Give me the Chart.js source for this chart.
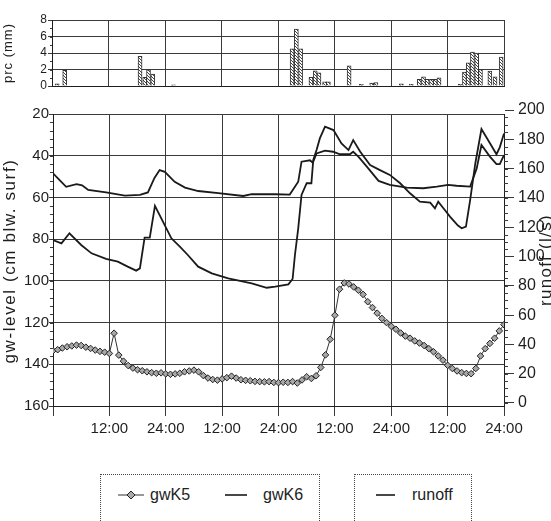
<!DOCTYPE html>
<html>
<head>
<meta charset="utf-8">
<script src="https://cdn.jsdelivr.net/npm/chart.js@4.4.1/dist/chart.umd.min.js"></script>
<style>
  html, body { margin:0; padding:0; background:#fff; width:551px; height:521px; overflow:hidden; }
  body { position:relative; font-family:"Liberation Sans", Arial, sans-serif; color:#222; }
  canvas { position:absolute; left:0; }
  #top { top:0; }
  #main { top:95px; }
  .box { position:absolute; border-top:1px dotted #444; border-left:1px dotted #444; border-right:1px dotted #444; }
  .lt { position:absolute; font-size:16px; line-height:18px; color:#222; }
  .sym { position:absolute; }
</style>
</head>
<body>
<canvas id="top" width="551" height="100"></canvas>
<canvas id="main" width="551" height="360"></canvas>

<div class="box" style="left:100px;top:474px;width:218px;height:60px;"></div>
<svg class="sym" style="left:118px;top:489px" width="26" height="12">
  <line x1="0" y1="6" x2="26" y2="6" stroke="#333" stroke-width="1"/>
  <polygon points="13,2 17,6 13,10 9,6" fill="#aaa" stroke="#222" stroke-width="1"/>
</svg>
<div class="lt" style="left:150px;top:486px;">gwK5</div>
<svg class="sym" style="left:225px;top:489px" width="22" height="12">
  <line x1="0" y1="6" x2="22" y2="6" stroke="#1a1a1a" stroke-width="1.6"/>
</svg>
<div class="lt" style="left:263px;top:486px;">gwK6</div>

<div class="box" style="left:354px;top:474px;width:116px;height:60px;"></div>
<svg class="sym" style="left:376px;top:489px" width="19" height="12">
  <line x1="0" y1="6" x2="19" y2="6" stroke="#1a1a1a" stroke-width="1.6"/>
</svg>
<div class="lt" style="left:412px;top:486px;">runoff</div>

<script>
// ---------------- DATA ----------------
// precipitation bars (hour from start, mm)
const prcHours  = [1.1, 2.7, 18.7, 19.7, 20.5, 21.4, 25.8, 51.0, 51.9, 52.8, 55.0, 55.9, 56.7, 57.9, 58.7, 63.1, 65.7, 67.9, 68.8, 74.2, 76.3, 78.0, 78.9, 79.7, 80.6, 81.4, 82.2, 86.7, 87.6, 88.4, 89.3, 90.2, 91.0, 93.0, 94.1, 95.4];
const prcValues = [0.25, 1.9, 3.6, 1.05, 1.95, 1.45, 0.15, 4.5, 6.9, 4.5, 1.05, 1.85, 1.6, 0.5, 0.5, 2.45, 0.2, 0.35, 0.4, 0.25, 0.2, 0.8, 1.1, 0.8, 0.8, 0.8, 1.0, 0.2, 1.7, 2.8, 4.1, 4.0, 2.0, 1.8, 1.1, 3.5];

// gwK5 hourly readings, hour 0 .. 96 (cm below surface)
const gwK5Values = [133.5,133.0,132.2,131.6,131.2,130.8,131.0,131.8,132.4,133.2,133.8,134.2,134.8,
  125.1,
  135.6,138.5,140.6,141.8,142.6,143.1,143.6,144.0,144.3,144.1,
  144.6,144.8,144.6,144.3,143.6,143.2,142.8,143.6,145.4,146.6,
  147.3,147.6,147.0,146.4,145.7,146.6,147.4,147.7,147.9,148.2,
  148.3,148.4,148.3,148.7,148.8,148.6,148.7,148.3,149.0,147.5,
  146.0,146.8,145.5,141.5,135.5,128.0,116.5,104.0,101.0,101.5,
  102.9,104.5,106.5,110.0,112.8,115.5,118.0,120.0,121.8,123.2,
  125.0,126.5,127.5,128.8,129.8,131.0,132.5,134.0,136.0,138.0,
  140.5,142.0,143.2,144.0,144.4,144.5,142.0,136.0,132.5,130.0,
  127.5,124.0,121.0];

// gwK6 (cm below surface)
const gwK6Hours  = [0,1.8,3.5,6.0,8.2,11.3,13.8,15.9,17.7,18.5,19.5,20.6,21.7,23.4,25.2,27.0,28.7,30.9,33.8,37.3,42.3,45.5,47.3,50.1,51.0,51.5,52.2,52.9,54.0,55.0,55.4,56.1,56.8,57.9,59.7,61.4,62.9,63.9,65.4,67.5,69.6,71.7,73.9,76.0,78.1,80.3,81.3,82.0,83.4,84.5,86.2,87.0,87.9,88.8,89.9,91.2,92.6,94.4,95.1,96];
const gwK6Values = [80.4,82.0,77.2,82.8,86.8,89.5,90.8,93.2,95.1,94.0,79.3,79.3,64.0,71.6,79.6,83.6,87.6,93.2,96.4,98.8,101.2,103.3,102.8,101.7,99.1,87.6,74.8,58.8,53.2,53.2,42.0,37.3,31.7,26.1,27.7,34.1,37.3,32.5,38.1,44.5,46.9,49.2,53.2,58.0,62.0,62.5,65.2,62.0,66.0,69.2,73.5,74.8,74.0,61.2,43.6,27.2,32.5,39.3,36.0,29.3];

// runoff (l/s)
const runoffHours  = [0,1.1,2.8,5.0,6.2,7.5,11.3,15.3,18.5,20.2,21.6,22.7,23.8,25.9,28.1,30.9,35.2,40.5,42.3,47.3,50.4,52.2,52.9,54.7,55.3,56.1,57.9,59.6,61.1,63.2,63.9,65.0,66.8,69.3,71.7,75.3,78.8,81.7,84.1,85.9,88.8,90.2,91.2,93.0,94.4,95.1,96];
const runoffValues = [156.8,153.1,147.6,149.4,148.6,145.4,143.7,141.5,142.0,143.7,153.6,159.0,157.8,151.0,147.0,144.7,143.2,141.3,142.5,142.5,142.3,151.0,164.7,165.7,164.0,170.4,172.2,171.5,169.8,169.8,171.5,168.2,161.4,151.6,148.9,147.0,146.6,147.7,148.9,148.3,147.7,160.3,176.1,168.2,163.0,163.0,169.2];

// tick labels
const gwTicks     = [20, 40, 60, 80, 100, 120, 140, 160];
const runoffTicks = [0, 20, 40, 60, 80, 100, 120, 140, 160, 180, 200];
const prcTicks    = [0, 2, 4, 6, 8];
const timeTicks   = [0, 12, 24, 36, 48, 60, 72, 84, 96];
const timeLabels  = {12: "12:00", 24: "24:00", 36: "12:00", 48: "24:00", 60: "12:00", 72: "24:00", 84: "12:00", 96: "24:00"};

// ---------------- HELPERS ----------------
const FONT = '"Liberation Sans", Arial, sans-serif';
const GRID = '#3a3a3a';
const INK = '#1e1e1e';

const axisTitles = {
  id: 'axisTitles',
  afterDraw(chart, args, opts) {
    const ctx = chart.ctx;
    (opts.items || []).forEach(t => {
      ctx.save();
      ctx.font = t.size + 'px ' + FONT;
      ctx.fillStyle = INK;
      if ('letterSpacing' in ctx) ctx.letterSpacing = t.spacing + 'px';
      ctx.translate(t.x, t.y);
      ctx.rotate(-Math.PI / 2);
      ctx.textAlign = 'center';
      ctx.textBaseline = 'middle';
      ctx.fillText(t.text, 0, 0);
      ctx.restore();
    });
  }
};

// small minor tick marks along vertical axes (decoration of the scale)
const minorTicks = {
  id: 'minorTicks',
  afterDraw(chart, args, opts) {
    const ctx = chart.ctx;
    (opts.items || []).forEach(m => {
      const s = chart.scales[m.scale];
      const lo = Math.min(s.min, s.max), hi = Math.max(s.min, s.max);
      const x0 = m.side === 'right' ? chart.chartArea.right : chart.chartArea.left;
      ctx.save();
      ctx.strokeStyle = GRID;
      ctx.lineWidth = 1;
      ctx.beginPath();
      for (let v = m.from; v <= m.to + 1e-9; v += m.step) {
        if (v < lo || v > hi) continue;
        const y = Math.round(s.getPixelForValue(v)) + 0.5;
        const dir = m.side === 'right' ? 1 : -1;
        ctx.moveTo(x0, y);
        ctx.lineTo(x0 + dir * m.len, y);
      }
      ctx.stroke();
      ctx.restore();
    });
  }
};

// hatched fill for precipitation bars
const pc = document.createElement('canvas');
pc.width = 3; pc.height = 3;
const pg = pc.getContext('2d');
pg.fillStyle = '#fff'; pg.fillRect(0, 0, 3, 3);
pg.fillStyle = '#444';
pg.fillRect(0, 0, 1, 1); pg.fillRect(1, 1, 1, 1); pg.fillRect(2, 2, 1, 1);
const hatch = pg.createPattern(pc, 'repeat');

// ---------------- TOP CHART (precipitation) ----------------
new Chart(document.getElementById('top'), {
  type: 'bar',
  data: {
    datasets: [{
      label: 'prc',
      data: prcHours.map((h, i) => ({ x: h, y: prcValues[i] })),
      backgroundColor: hatch,
      borderColor: '#333',
      borderWidth: 1,
      barThickness: 4,
      grouped: false
    }]
  },
  options: {
    responsive: false,
    animation: false,
    devicePixelRatio: 1,
    layout: { padding: { top: 20, right: 47, bottom: 0, left: 0 } },
    plugins: {
      legend: { display: false },
      tooltip: { enabled: false },
      axisTitles: { items: [{ text: 'prc (mm)', x: 8, y: 53, size: 13, spacing: 1 }] },
      minorTicks: { items: [{ scale: 'y', from: 0, to: 8, step: 1, len: 2, side: 'left' }] }
    },
    scales: {
      x: {
        type: 'linear', min: 0, max: 96, offset: false,
        afterBuildTicks(s) { s.ticks = timeTicks.map(v => ({ value: v })); },
        ticks: { display: false },
        grid: { color: GRID, drawTicks: false, offset: false },
        border: { color: INK },
        afterFit(s) { s.height = 14; }
      },
      y: {
        min: 0, max: 8,
        afterBuildTicks(s) { s.ticks = prcTicks.map(v => ({ value: v })); },
        ticks: { font: { family: FONT, size: 12 }, color: INK, padding: 1, autoSkip: false },
        grid: { color: GRID, tickLength: 4 },
        border: { color: INK },
        afterFit(s) { s.width = 52; }
      }
    }
  },
  plugins: [axisTitles, minorTicks]
});

// ---------------- MAIN CHART ----------------
new Chart(document.getElementById('main'), {
  type: 'line',
  data: {
    datasets: [
      {
        label: 'gwK5',
        data: gwK5Values.map((v, i) => ({ x: i, y: v })),
        yAxisID: 'y',
        borderColor: '#333',
        borderWidth: 1,
        pointStyle: 'rectRot',
        pointRadius: 3.3,
        pointBackgroundColor: '#a8a8a8',
        pointBorderColor: '#222',
        pointBorderWidth: 1,
        tension: 0
      },
      {
        label: 'gwK6',
        data: gwK6Hours.map((h, i) => ({ x: h, y: gwK6Values[i] })),
        yAxisID: 'y',
        borderColor: '#1a1a1a',
        borderWidth: 1.8,
        pointRadius: 0,
        tension: 0
      },
      {
        label: 'runoff',
        data: runoffHours.map((h, i) => ({ x: h, y: runoffValues[i] })),
        yAxisID: 'y1',
        borderColor: '#1a1a1a',
        borderWidth: 1.8,
        pointRadius: 0,
        tension: 0
      }
    ]
  },
  options: {
    responsive: false,
    animation: false,
    devicePixelRatio: 1,
    layout: { padding: { top: 19, right: 0, bottom: 0, left: 0 } },
    plugins: {
      legend: { display: false },
      tooltip: { enabled: false },
      axisTitles: { items: [
        { text: 'gw-level (cm blw. surf)', x: 10, y: 166, size: 17, spacing: 1.6 },
        { text: 'runoff (l/s)', x: 546, y: 165, size: 17, spacing: 1.3 }
      ] },
      minorTicks: { items: [
        { scale: 'y', from: 20, to: 160, step: 4, len: 3, side: 'left' },
        { scale: 'y1', from: 0, to: 200, step: 5, len: 4, side: 'right' }
      ] }
    },
    scales: {
      x: {
        type: 'linear', min: 0, max: 96,
        afterBuildTicks(s) { s.ticks = timeTicks.map(v => ({ value: v })); },
        ticks: {
          autoSkip: false, maxRotation: 0,
          font: { family: FONT, size: 15 }, color: INK, padding: 4,
          callback: v => timeLabels[v] || ''
        },
        grid: { color: GRID, tickLength: 10 },
        border: { color: INK },
        afterFit(s) { s.height = 49; }
      },
      y: {
        position: 'left', reverse: true, min: 20, max: 160,
        afterBuildTicks(s) { s.ticks = gwTicks.map(v => ({ value: v })); },
        ticks: { font: { family: FONT, size: 15 }, color: INK, padding: 0, autoSkip: false },
        grid: { color: GRID, tickLength: 4 },
        border: { color: INK },
        afterFit(s) { s.width = 53; }
      },
      y1: {
        position: 'right', min: -2.05, max: 197.27,
        afterBuildTicks(s) { s.ticks = runoffTicks.map(v => ({ value: v })); },
        ticks: { font: { family: FONT, size: 16 }, color: INK, padding: 4, autoSkip: false },
        grid: { drawOnChartArea: false, color: GRID, tickLength: 10 },
        border: { color: INK },
        afterFit(s) { s.width = 47; }
      }
    }
  },
  plugins: [axisTitles, minorTicks]
});
</script>
</body>
</html>
